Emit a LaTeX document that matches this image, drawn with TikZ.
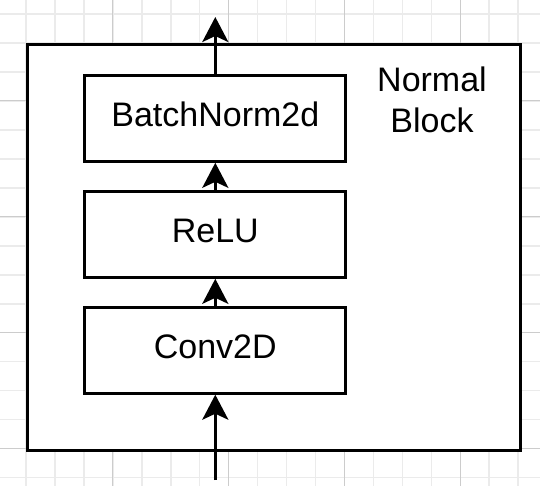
\documentclass[tikz,border=0pt]{standalone}
\usepackage{fontspec}
\setmainfont{Liberation Sans}
\usetikzlibrary{arrows.meta}
\begin{document}
\begin{tikzpicture}[x=1pt,y=-1pt,
  gridminor/.style={draw=black!8,line width=1.6pt},
  gridmajor/.style={draw=black!20,line width=1pt},
  outerbox/.style={draw=black,fill=white,line width=3pt,minimum width=493pt,minimum height=405.5pt,inner sep=0pt},
  layerbox/.style={draw=black,fill=white,line width=3pt,minimum width=261pt,minimum height=86pt,inner sep=0pt,
    font=\fontsize{34}{41}\selectfont,text height=25pt,text depth=8.2pt},
  blocklabel/.style={font=\fontsize{34}{41}\selectfont,align=center,inner sep=0pt},
  arr/.style={draw=black,line width=3pt,-{Stealth[length=25pt,width=26pt,inset=6pt]}}]
\useasboundingbox (0,0) rectangle (540,486);
\fill[white] (0,0) rectangle (540,486);
% grid
\foreach \k in {0,...,17}{
  \pgfmathsetmacro{\xx}{25.9+28.96*\k}
  \draw[gridminor] (\xx,0) -- (\xx,486);
}
\foreach \k in {0,...,16}{
  \pgfmathsetmacro{\yy}{14.1+28.96*\k}
  \draw[gridminor] (0,\yy) -- (540,\yy);
}
\foreach \k in {0,...,3}{
  \pgfmathsetmacro{\xx}{112.8+115.84*\k}
  \draw[gridmajor] (\xx,0) -- (\xx,486);
  \pgfmathsetmacro{\yy}{101+115.84*\k}
  \draw[gridmajor] (0,\yy) -- (540,\yy);
}
% boxes
\node[outerbox] (outer) at (273.5,247.75) {};
\node[layerbox] (bn) at (215.3,118.3) {BatchNorm2d};
\node[layerbox] (relu) at (215.3,234.3) {ReLU};
\node[layerbox] (conv) at (215.3,350.2) {Conv2D};
\node[blocklabel] (lbl) at (432,99.8) {Normal\\Block};
% connectors
\coordinate (in) at (215.3,480);
\coordinate (out) at (215.3,17);
\draw[arr] (in) -- (conv.south);
\draw[arr] (conv.north) -- (relu.south);
\draw[arr] (relu.north) -- (bn.south);
\draw[arr] (bn.north) -- (out);
\end{tikzpicture}
\end{document}
